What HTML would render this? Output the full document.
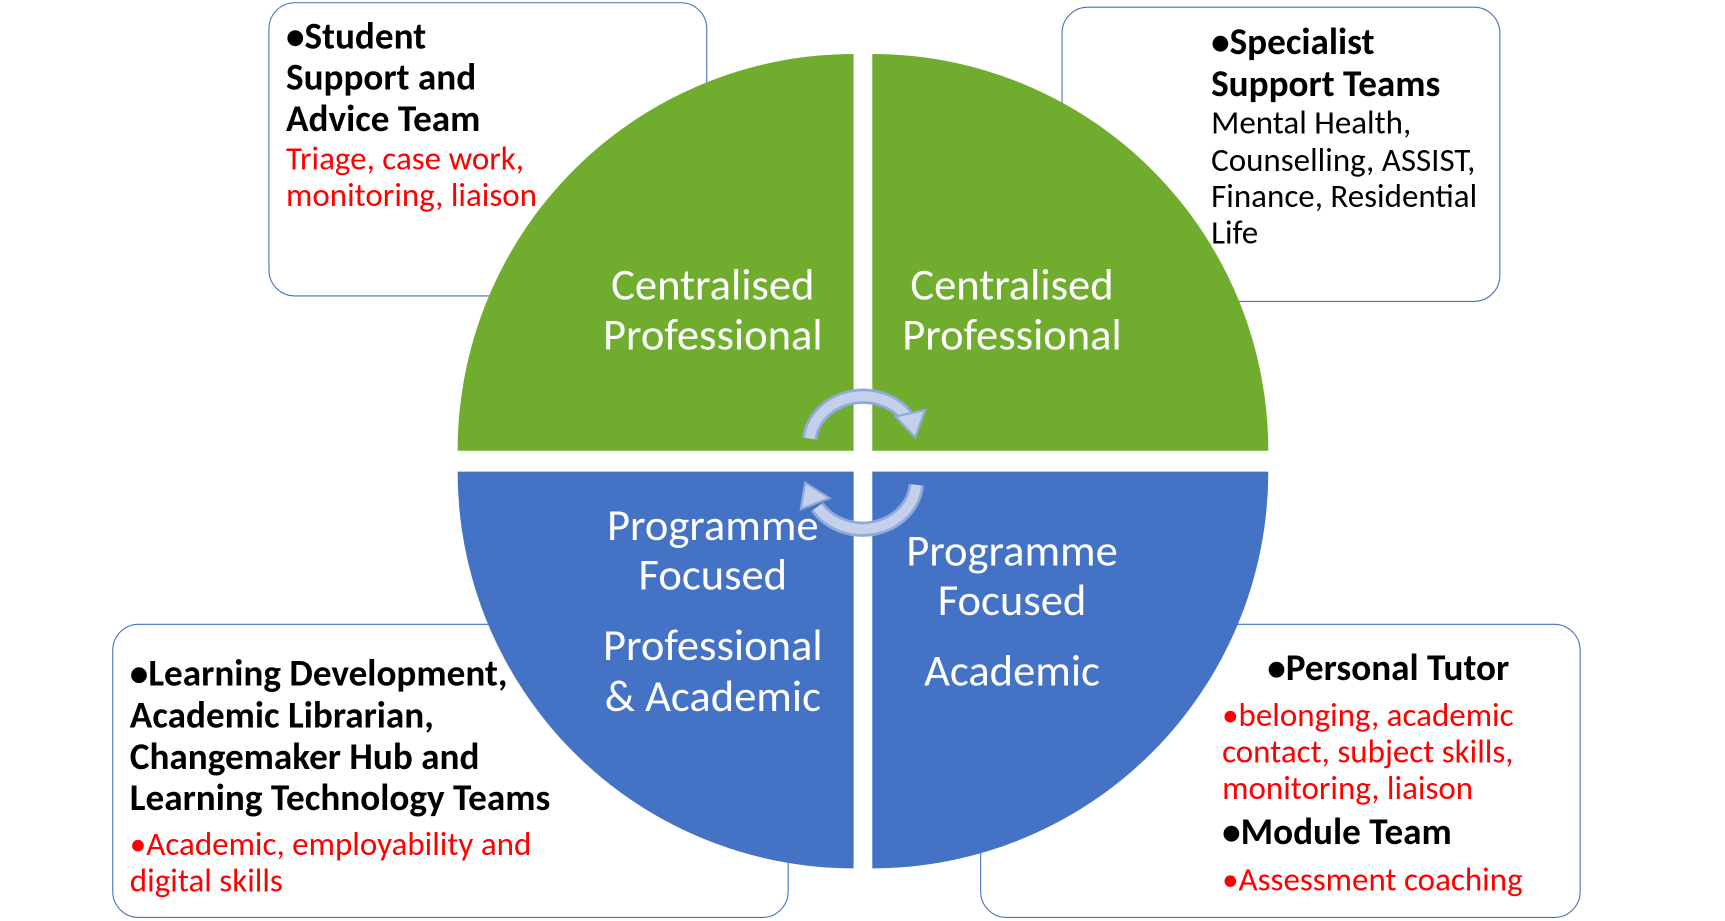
<!DOCTYPE html>
<html><head><meta charset="utf-8"><style>
html,body{margin:0;padding:0;background:#fff;overflow:hidden}
#wrap{position:absolute;left:0;top:0;width:1548px;height:835px;transform-origin:0 0;transform:scale(1.1,1.102);font-family:"Calibri","Carlito","Liberation Sans",sans-serif}
.box{position:absolute;border:1.6px solid #4472C4;border-radius:24px;background:#fff}
.t{position:absolute;white-space:nowrap;line-height:36px;height:36px}
.b{font-weight:bold;font-size:33.8px;color:#000}
.r{font-size:30px;color:#f00}
.n{font-size:30px;color:#000}
.w{font-size:40.5px;color:#fff;text-align:center;width:300px;line-height:44px;height:44px}
</style></head><body><div id="wrap">
<div class="box" style="left:244px;top:2px;width:397px;height:265px"></div>
<div class="box" style="left:965px;top:6px;width:397px;height:266px"></div>
<div class="box" style="left:102px;top:566px;width:613px;height:265px"></div>
<div class="box" style="left:891px;top:566px;width:544px;height:265px"></div>
<svg style="position:absolute;left:0;top:0" width="1548" height="835">
<path d="M776 409 L416 409 A360 360 0 0 1 776 49 Z" fill="#70AD2F"/>
<path d="M793 409 L793 49 A360 360 0 0 1 1153 409 Z" fill="#70AD2F"/>
<path d="M776 428 L776 788 A360 360 0 0 1 416 428 Z" fill="#4472C4"/>
<path d="M793 428 L1153 428 A360 360 0 0 1 793 788 Z" fill="#4472C4"/>
<g fill="none" stroke-linecap="butt">
<path d="M736 398 A49 44 0 0 1 826 380" stroke="#8FAADC" stroke-width="14"/>
<path d="M736 398 A49 44 0 0 1 826 380" stroke="#C5D0EA" stroke-width="9"/>
<path d="M833 440 A49 44 0 0 1 743 460" stroke="#8FAADC" stroke-width="14"/>
<path d="M833 440 A49 44 0 0 1 743 460" stroke="#C5D0EA" stroke-width="9"/>
</g>
<polygon points="814,378 841,372 832,397" fill="#C5D0EA" stroke="#8FAADC" stroke-width="2"/>
<polygon points="728,462 732,438 754,452" fill="#C5D0EA" stroke="#8FAADC" stroke-width="2"/>
</svg>
<div class="t b" style="left:260px;top:16px">•Student</div>
<div class="t b" style="left:260px;top:53px">Support and</div>
<div class="t b" style="left:260px;top:91px">Advice Team</div>
<div class="t r" style="left:260px;top:127px">Triage, case work,</div>
<div class="t r" style="left:260px;top:160px">monitoring, liaison</div>

<div class="t b" style="left:1101px;top:21px">•Specialist</div>
<div class="t b" style="left:1101px;top:59px">Support Teams</div>
<div class="t n" style="left:1101px;top:94px">Mental Health,</div>
<div class="t n" style="left:1101px;top:128px">Counselling, ASSIST,</div>
<div class="t n" style="left:1101px;top:161px">Finance, Residential</div>
<div class="t n" style="left:1101px;top:194px">Life</div>

<div class="t b" style="left:118px;top:594px">•Learning Development,</div>
<div class="t b" style="left:118px;top:632px">Academic Librarian,</div>
<div class="t b" style="left:118px;top:670px">Changemaker Hub and</div>
<div class="t b" style="left:118px;top:707px">Learning Technology Teams</div>
<div class="t r" style="left:118px;top:749px">•Academic, employability and</div>
<div class="t r" style="left:118px;top:782px">digital skills</div>

<div class="t b" style="left:1152px;top:589px">•Personal Tutor</div>
<div class="t r" style="left:1111px;top:632px">•belonging, academic</div>
<div class="t r" style="left:1111px;top:665px">contact, subject skills,</div>
<div class="t r" style="left:1111px;top:698px">monitoring, liaison</div>
<div class="t b" style="left:1111px;top:738px">•Module Team</div>
<div class="t r" style="left:1111px;top:781px">•Assessment coaching</div>

<div class="t w" style="left:498px;top:236px">Centralised</div>
<div class="t w" style="left:498px;top:281px">Professional</div>
<div class="t w" style="left:770px;top:236px">Centralised</div>
<div class="t w" style="left:770px;top:281px">Professional</div>
<div class="t w" style="left:498px;top:454px">Programme</div>
<div class="t w" style="left:498px;top:499px">Focused</div>
<div class="t w" style="left:498px;top:563px">Professional</div>
<div class="t w" style="left:498px;top:609px">&amp; Academic</div>
<div class="t w" style="left:770px;top:477px">Programme</div>
<div class="t w" style="left:770px;top:522px">Focused</div>
<div class="t w" style="left:770px;top:586px">Academic</div>
</div></body></html>
